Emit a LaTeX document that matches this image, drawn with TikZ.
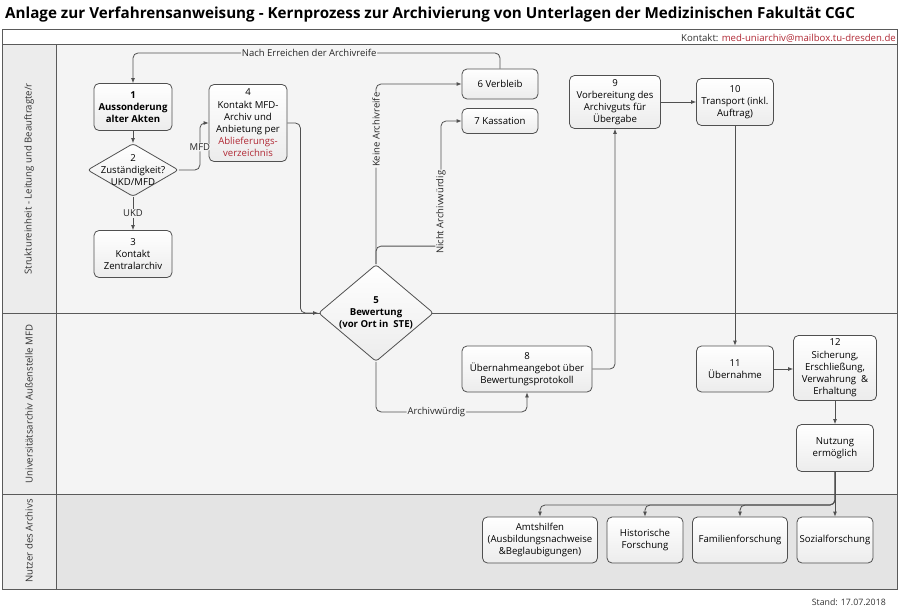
\documentclass[tikz,border=0pt]{standalone}
\usepackage{fontspec}
\setmainfont{Open Sans}
\usetikzlibrary{arrows.meta,positioning,shapes.geometric}
\definecolor{ualine}{RGB}{80,80,80}
\definecolor{uaframe}{RGB}{90,90,90}
\definecolor{uared}{RGB}{176,40,52}
\definecolor{ualane}{RGB}{244,244,244}
\definecolor{uauser}{RGB}{228,228,228}
\definecolor{uahead}{RGB}{236,236,236}
\definecolor{uabox}{RGB}{236,236,236}
\newcommand{\boxfont}{\fontsize{9.6}{12.2}\selectfont}
\newcommand{\labelfont}{\fontsize{9.5}{11}\selectfont}
\tikzset{
  procnode/.style={rectangle,draw=ualine,line width=0.8pt,rounded corners=5pt,top color=white,bottom color=uabox,align=center,inner sep=1pt,font=\boxfont},
  decnode/.style={diamond,draw=ualine,line width=0.8pt,rounded corners=3pt,top color=white,bottom color=uabox,inner sep=0pt},
  dectext/.style={align=center,inner sep=0pt,font=\boxfont},
  lanelabel/.style={rotate=90,font=\boxfont,text=black!80},
  edgelabel/.style={font=\labelfont,fill=ualane,inner sep=1pt,text=black!85},
  flowarrow/.style={-{Latex[length=5pt,width=4pt]},line width=0.8pt,draw=ualine,rounded corners=5pt}
}

\begin{document}
\begin{tikzpicture}[x=1pt,y=-1pt]
  \useasboundingbox (0,0) rectangle (900,610);
  % lanes
  \fill[white] (2,30) rectangle (897,45);
  \fill[ualane] (56,45) rectangle (897,494);
  \fill[uauser] (56,494) rectangle (897,589);
  \fill[uahead] (2,45) rectangle (56,589);
  \draw[uaframe,line width=1pt] (2,30) rectangle (897,589);
  \draw[uaframe,line width=1pt] (2,45) -- (897,45);
  \draw[uaframe,line width=1pt] (2,313) -- (897,313);
  \draw[uaframe,line width=1pt] (2,494) -- (897,494);
  \draw[uaframe,line width=1pt] (56,45) -- (56,589);
  \node[anchor=west,inner sep=0pt,font=\fontsize{15.2}{18}\selectfont\bfseries] (title) at (5,15)
    {Anlage zur Verfahrensanweisung - Kernprozess zur Archivierung von Unterlagen der Medizinischen Fakultät CGC};
  \node[anchor=east,inner sep=0pt,font=\fontsize{9.6}{11}\selectfont,text=black!80] (kontakt) at (896,38)
    {Kontakt: \textcolor{uared}{med-uniarchiv@mailbox.tu-dresden.de}};
  \node[anchor=east,inner sep=0pt,font=\fontsize{8.8}{10}\selectfont,text=black!80] (stand) at (886,602) {Stand: 17.07.2018};
  \node[lanelabel] (laneA) at (29,179) {Struktureinheit - Leitung und Beauftragte/r};
  \node[lanelabel] (laneB) at (29,404) {Universitätsarchiv Außenstelle MFD};
  \node[lanelabel] (laneC) at (29,541) {Nutzer des Archivs};
  % process nodes
  \node[procnode,minimum width=78pt,minimum height=47pt,font=\boxfont\bfseries] (akten) at (133,107) {1\\Aussonderung\\alter Akten};
  \node[decnode,minimum width=91pt,minimum height=53pt] (zust) at (133,170) {};
  \node[dectext] (zusttext) at (zust) {2\\Zuständigkeit?\\UKD/MFD};
  \node[procnode,minimum width=78pt,minimum height=47pt] (zentral) at (133,254) {3\\Kontakt\\Zentralarchiv};
  \node[procnode,minimum width=78pt,minimum height=77pt] (mfdarch) at (248,123)
    {4\\Kontakt MFD-\\Archiv und\\Anbietung per\\\textcolor{uared}{Ablieferungs-}\\\textcolor{uared}{verzeichnis}};
  \node[procnode,minimum width=76pt,minimum height=30pt] (verbleib) at (500,84) {6 Verbleib};
  \node[procnode,minimum width=76pt,minimum height=25pt] (kass) at (500,121) {7 Kassation};
  \node[decnode,minimum width=115pt,minimum height=97pt] (bew) at (376,313) {};
  \node[dectext,font=\boxfont\bfseries] (bewtext) at (bew) {5\\Bewertung\\(vor Ort in\ \ STE)};
  \node[procnode,minimum width=130pt,minimum height=46pt] (uebang) at (527,369) {8\\Übernahmeangebot über\\Bewertungsprotokoll};
  \node[procnode,minimum width=91pt,minimum height=53pt] (vorb) at (615,102) {9\\Vorbereitung des\\Archivguts für\\Übergabe};
  \node[procnode,minimum width=77pt,minimum height=47pt] (transp) at (735,102) {10\\Transport (inkl.\\Auftrag)};
  \node[procnode,minimum width=77pt,minimum height=46pt] (uebern) at (735,369) {11\\Übernahme};
  \node[procnode,minimum width=83pt,minimum height=65pt] (sich) at (835,368) {12\\Sicherung,\\Erschließung,\\Verwahrung\ \ \&\\Erhaltung};
  \node[procnode,minimum width=77pt,minimum height=47pt] (nutz) at (835,448) {Nutzung\\ermöglich};
  \node[procnode,minimum width=115pt,minimum height=46pt] (amts) at (540,540) {Amtshilfen\\(Ausbildungsnachweise\\\&Beglaubigungen)};
  \node[procnode,minimum width=76pt,minimum height=46pt] (hist) at (645,540) {Historische\\Forschung};
  \node[procnode,minimum width=95pt,minimum height=46pt] (fam) at (740,540) {Familienforschung};
  \node[procnode,minimum width=76pt,minimum height=46pt] (sozial) at (835,540) {Sozialforschung};
  \coordinate (topline) at (0,53);
  \coordinate (fan) at (0,505);
  % connectors
  \draw[flowarrow] (verbleib.north) |- (akten.north |- topline)
    node[edgelabel,pos=0.76] {Nach Erreichen der Archivreife} -- (akten.north);
  \draw[flowarrow] (akten) -- (zust);
  \draw[flowarrow] (zust) -- node[edgelabel] {UKD} (zentral);
  \draw[flowarrow] (zust.east) -- ++(21,0) |- node[edgelabel,pos=0.245] {MFD} (mfdarch.west);
  \draw[flowarrow] (mfdarch.east) -- ++(13,0) |- (bew.west);
  \draw[flowarrow] (bew.north) |- node[edgelabel,rotate=90,pos=0.373] {Keine Archivreife} (verbleib.west);
  \draw[flowarrow] (bew.north) -- ++(0,-18) -- ++(65,0) |- node[edgelabel,rotate=90,pos=0.135] {Nicht Archivwürdig} (kass.west);
  \draw[flowarrow] (bew.south) -- ++(0,50) -| node[edgelabel,pos=0.2] {Archivwürdig} (uebang.south);
  \draw[flowarrow] (uebang.east) -| (vorb.south);
  \draw[flowarrow] (vorb) -- (transp);
  \draw[flowarrow] (transp) -- (uebern);
  \draw[flowarrow] (uebern.east) -- (uebern.east -| sich.west);
  \draw[flowarrow] (sich) -- (nutz);
  \draw[flowarrow] (nutz.south) |- (amts.north |- fan) -- (amts.north);
  \draw[flowarrow] (nutz.south) |- (hist.north |- fan) -- (hist.north);
  \draw[flowarrow] (nutz.south) |- (fam.north |- fan) -- (fam.north);
  \draw[flowarrow] (nutz) -- (sozial);
\end{tikzpicture}
\end{document}
